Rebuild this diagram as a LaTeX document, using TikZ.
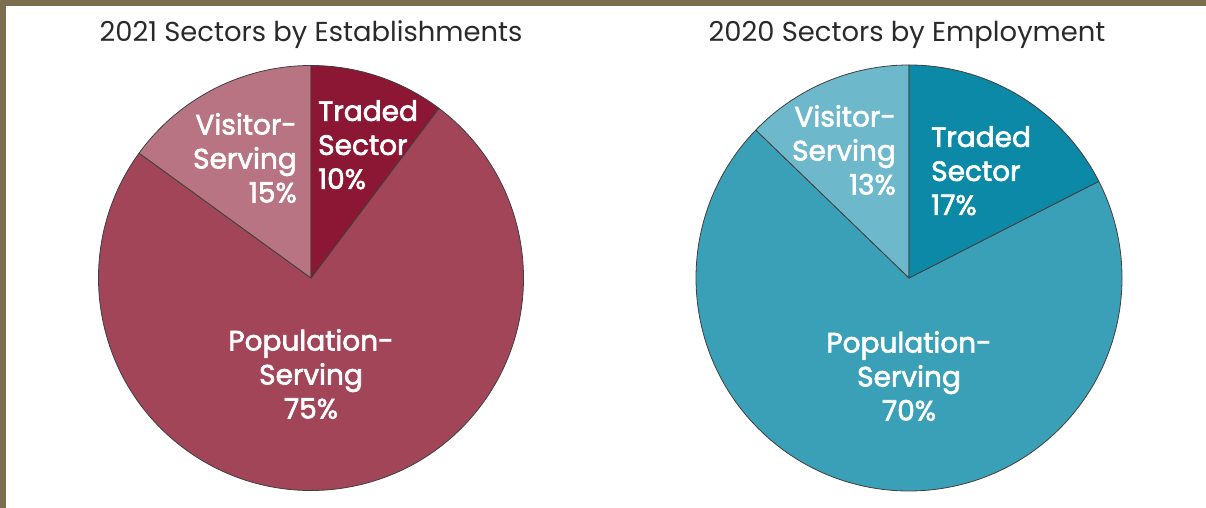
\documentclass[tikz,border=0pt]{standalone}
\usepackage{fontspec}
\setmainfont{Poppins}
\newfontfamily\labelfont{Poppins}[FakeBold=2.3]
\definecolor{frame}{HTML}{7C6F50}
\definecolor{redT}{HTML}{8C1734}
\definecolor{redP}{HTML}{A24559}
\definecolor{redV}{HTML}{B97483}
\definecolor{blueT}{HTML}{0B89A6}
\definecolor{blueP}{HTML}{3AA0B7}
\definecolor{blueV}{HTML}{6DB8CB}
\definecolor{edge}{HTML}{404040}
\definecolor{titlec}{HTML}{2A2A2A}
\tikzset{
  slice/.style={draw=edge, line width=0.8pt, line join=round},
  lbl/.style={text=white, inner sep=0pt, font=\labelfont\fontsize{28}{34}\selectfont},
  ttl/.style={text=titlec, inner sep=0pt, font=\fontsize{27.4}{30}\selectfont, anchor=base}
}
\begin{document}
\begin{tikzpicture}[x=1pt,y=1pt]
\useasboundingbox (0,0) rectangle (1206,508);
\fill[frame] (0,502) rectangle (1206,508);
\fill[frame] (0,0) rectangle (6,508);
% titles
\node[ttl] (t1) at (311,466) {2021 Sectors by Establishments};
\node[ttl] (t2) at (907,466) {2020 Sectors by Employment};
% pie 1
\coordinate (c1) at (311,230);
\filldraw[slice, fill=redP] (c1) -- ++(144:212.5) arc[start angle=144, end angle=413, radius=212.5] -- cycle;
\filldraw[slice, fill=redV] (c1) -- ++(90:212.5) arc[start angle=90, end angle=144, radius=212.5] -- cycle;
\filldraw[slice, fill=redT] (c1) -- ++(53:212.5) arc[start angle=53, end angle=90, radius=212.5] -- cycle;
\node[lbl, anchor=north west, align=left] (l1t) at (318,408) {Traded\\Sector\\10\%};
\node[lbl, anchor=north east, align=right] (l1v) at (297,395) {Visitor-\\Serving\\15\%};
\node[lbl, anchor=north, align=center] (l1p) at (311,179) {Population-\\Serving\\75\%};
% pie 2
\coordinate (c2) at (909,230);
\filldraw[slice, fill=blueP] (c2) -- ++(136:213) arc[start angle=136, end angle=387, radius=213] -- cycle;
\filldraw[slice, fill=blueV] (c2) -- ++(90:213) arc[start angle=90, end angle=136, radius=213] -- cycle;
\filldraw[slice, fill=blueT] (c2) -- ++(27:213) arc[start angle=27, end angle=90, radius=213] -- cycle;
\node[lbl, anchor=north west, align=left] (l2t) at (931,382) {Traded\\Sector\\17\%};
\node[lbl, anchor=north east, align=right] (l2v) at (896,403) {Visitor-\\Serving\\13\%};
\node[lbl, anchor=north, align=center] (l2p) at (909,177) {Population-\\Serving\\70\%};
\end{tikzpicture}
\end{document}
